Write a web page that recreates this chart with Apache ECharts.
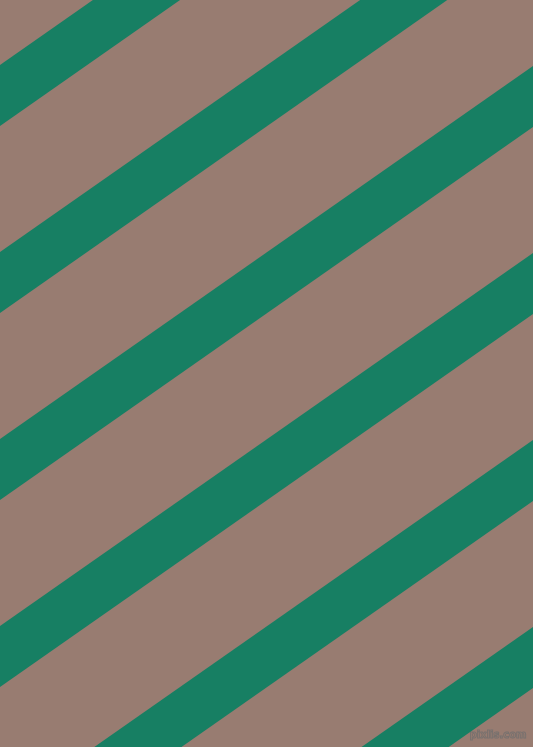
<!DOCTYPE html>
<html>
<head>
<meta charset="utf-8">
<script src="https://cdn.jsdelivr.net/npm/echarts@6/dist/echarts.min.js"></script>
<style>
html,body{margin:0;padding:0;background:#987c71;}
#chart{width:533px;height:747px;}
</style>
</head>
<body>
<div id="chart"></div>
<script>
var stripeNames = ['s1', 's2', 's3', 's4', 's5', 's6'];
var leftTop     = [65, 252, 439, 626, 813, 1000];   // upper edge at x = 0
var leftBottom  = [126, 313, 500, 687, 874, 1061];  // lower edge at x = 0
var rightTop    = [-308, -121, 66, 253, 440, 627];  // upper edge at x = 533
var rightBottom = [-247, -60, 127, 314, 501, 688];  // lower edge at x = 533
var xRange = [0, 533];
var yRange = [0, 747];

var data = stripeNames.map(function (n, i) {
  return [leftTop[i], leftBottom[i], rightTop[i], rightBottom[i]];
});

var chart = echarts.init(document.getElementById('chart'), null, {renderer: 'canvas'});
chart.setOption({
  backgroundColor: '#987c71',
  animation: false,
  grid: {left: 0, right: 0, top: 0, bottom: 0},
  xAxis: {type: 'value', min: xRange[0], max: xRange[1], show: false},
  yAxis: {type: 'value', min: yRange[0], max: yRange[1], inverse: true, show: false},
  series: [{
    type: 'custom',
    data: data,
    renderItem: function (params, api) {
      var p1 = api.coord([xRange[0], api.value(0)]);
      var p2 = api.coord([xRange[1], api.value(2)]);
      var p3 = api.coord([xRange[1], api.value(3)]);
      var p4 = api.coord([xRange[0], api.value(1)]);
      return {
        type: 'polygon',
        shape: {points: [p1, p2, p3, p4]},
        style: {fill: '#177f63'}
      };
    }
  }],
  graphic: [{
    type: 'text',
    right: 6,
    bottom: 6,
    style: {
      text: 'pixlis.com',
      font: 'bold 10px "DejaVu Sans", sans-serif',
      fill: 'rgba(152,124,113,0.2)',
      stroke: 'rgba(110,110,110,0.8)',
      lineWidth: 1
    }
  }]
});
</script>
</body>
</html>
